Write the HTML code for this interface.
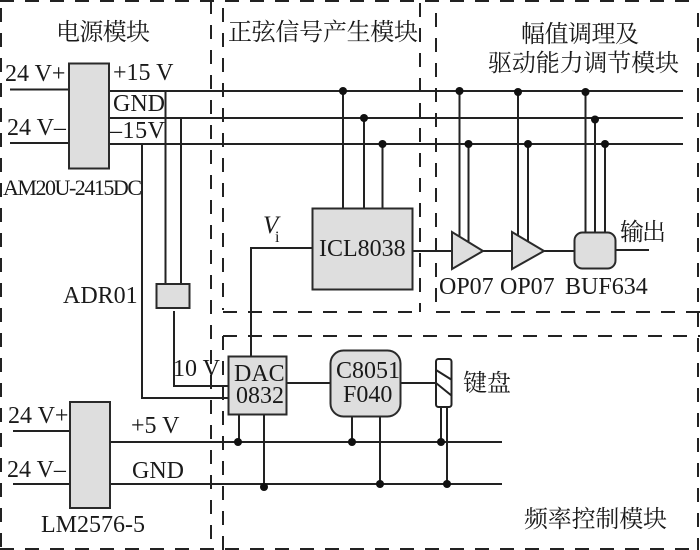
<!DOCTYPE html>
<html><head><meta charset="utf-8"><style>
html,body{margin:0;padding:0;background:#fff;width:700px;height:550px;overflow:hidden}
svg{display:block}
text{fill:#1a1a1a}
.e{font-family:"Liberation Serif",serif;font-size:24px}
.c{font-family:"Noto Serif CJK SC","Liberation Serif",serif;font-size:24px}
.l{stroke:#222;stroke-width:2;fill:none}
.d{stroke:#222;stroke-width:2;fill:none;stroke-dasharray:14 11}
.b{fill:#dedede;stroke:#2a2a2a;stroke-width:2}
circle{fill:#111}
</style></head><body>
<svg width="700" height="550" viewBox="0 0 700 550" xmlns="http://www.w3.org/2000/svg">
<path class="d" d="M1 8V550M211 0V550M223 8V310M223 336V550M420 3V312M436 13V312M223 312H420M436 312H700M223 336H700M698 13V550M0 1H700M0 549H700"/>
<path class="l" d="M10 89.5H69M10 143H69M109 91H683M109 118H683M109 144H683"/>
<path class="l" d="M165.500 91V284M181 118V284M142 144V398H229M174 311V386H229"/>
<path class="l" d="M343 91V208M364 118V208M382.500 144V208"/>
<path class="l" d="M251 356V248H312M412 251H452M483 251H512M544 251H574M616 250H649"/>
<path class="l" d="M459.500 91V236M468.500 144V242M518 91V236M528 144V242M585.500 91V232M595 118V232M605 144V232"/>
<path class="l" d="M13 431H70M13 484H70M110 442H502M110 484H502"/>
<path class="l" d="M239 414V442M264 414V487M352 416V442M380 416V484M441 407V442M447 407V484M287 383H330M401 383H436"/>
<rect class="b" x="69" y="63.500" width="40" height="105"/>
<rect class="b" x="70" y="402" width="40" height="106"/>
<rect class="b" x="156.500" y="284" width="33" height="24"/>
<rect class="b" x="312.500" y="208.500" width="100" height="81"/>
<rect class="b" x="228.500" y="356.500" width="58" height="58"/>
<rect class="b" x="330.500" y="350.500" width="70" height="66" rx="13"/>
<rect class="b" x="574.500" y="232.500" width="41" height="36" rx="8"/>
<polygon class="b" points="452,232 452,269 483,251"/>
<polygon class="b" points="512,232 512,269 544,251"/>
<rect x="436" y="359" width="15.500" height="48" rx="2.500" fill="#fff" stroke="#222" stroke-width="2"/>
<path class="l" d="M436 370L452 380M436 383L452 396"/>
<g>
<circle cx="343" cy="91" r="4"/><circle cx="364" cy="118" r="4"/><circle cx="382.500" cy="144" r="4"/>
<circle cx="459.500" cy="91" r="4"/><circle cx="468.500" cy="144" r="4"/>
<circle cx="518" cy="92" r="4"/><circle cx="528" cy="144" r="4"/>
<circle cx="585.500" cy="92" r="4"/><circle cx="595" cy="119.500" r="4"/><circle cx="605" cy="144" r="4"/>
<circle cx="238" cy="442" r="4"/><circle cx="264" cy="487" r="4"/>
<circle cx="352" cy="442" r="4"/><circle cx="380" cy="484" r="4"/>
<circle cx="441" cy="442" r="4"/><circle cx="447" cy="484" r="4"/>
</g>
<text class="c" x="56" y="40" textLength="94" font-size="23">电源模块</text>
<text class="c" x="228" y="40" textLength="190">正弦信号产生模块</text>
<text class="c" x="521" y="42" textLength="118">幅值调理及</text>
<text class="c" x="488" y="71" textLength="191">驱动能力调节模块</text>
<text class="c" x="524" y="527" textLength="143">频率控制模块</text>
<text class="c" x="620" y="240" textLength="46">输出</text>
<text class="c" x="463" y="391" textLength="48">键盘</text>
<text class="e" x="5" y="81">24 V+</text>
<text class="e" x="7" y="135">24 V–</text>
<text class="e" x="113" y="80">+15 V</text>
<text class="e" x="113" y="111">GND</text>
<text class="e" x="110" y="138" textLength="55">–15V</text>
<text class="e" x="3" y="195" textLength="139" style="font-size:22px">AM20U-2415DC</text>
<text class="e" x="63" y="303">ADR01</text>
<text x="263" y="233" font-family="Liberation Serif,serif" font-style="italic" font-size="25">V</text>
<text x="275" y="242" font-family="Liberation Serif,serif" font-size="16">i</text>
<text class="e" x="319" y="256">ICL8038</text>
<text class="e" x="439" y="294">OP07</text>
<text class="e" x="500" y="294">OP07</text>
<text class="e" x="565" y="294">BUF634</text>
<text class="e" x="173" y="376">10 V</text>
<text class="e" x="234" y="381">DAC</text>
<text class="e" x="236" y="403">0832</text>
<text class="e" x="336" y="378">C8051</text>
<text class="e" x="343" y="402">F040</text>
<text class="e" x="8" y="423">24 V+</text>
<text class="e" x="7" y="477">24 V–</text>
<text class="e" x="131" y="433">+5 V</text>
<text class="e" x="132" y="478">GND</text>
<text class="e" x="41" y="532">LM2576-5</text>
</svg>
</body></html>
